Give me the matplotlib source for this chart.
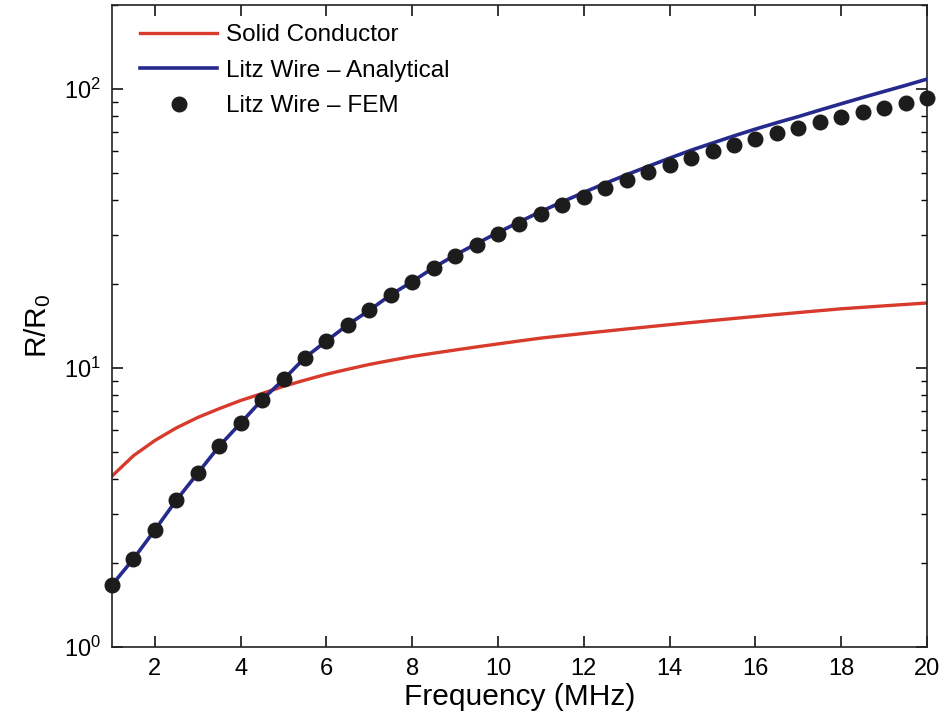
import matplotlib
matplotlib.use("Agg")
import matplotlib.pyplot as plt
from matplotlib.ticker import LogLocator, FixedLocator

plt.rcParams['font.family'] = ['Liberation Sans', 'DejaVu Sans']
plt.rcParams['mathtext.fontset'] = 'custom'
plt.rcParams['mathtext.rm'] = 'Liberation Sans'
plt.rcParams['mathtext.it'] = 'Liberation Sans'

freq = [1, 1.5, 2, 2.5, 3, 3.5, 4, 4.5, 5, 5.5, 6, 6.5, 7, 7.5, 8, 8.5, 9, 9.5,
        10, 10.5, 11, 11.5, 12, 12.5, 13, 13.5, 14, 14.5, 15, 15.5, 16, 16.5,
        17, 17.5, 18, 18.5, 19, 19.5, 20]

solid = [4.1, 4.85, 5.5, 6.1, 6.65, 7.15, 7.65, 8.1, 8.6, 9.05, 9.5, 9.9, 10.3,
         10.65, 11.0, 11.3, 11.6, 11.9, 12.2, 12.5, 12.8, 13.05, 13.3, 13.55,
         13.8, 14.05, 14.3, 14.55, 14.8, 15.05, 15.3, 15.55, 15.8, 16.05, 16.3,
         16.5, 16.7, 16.9, 17.1]

litz_analytical = [1.67, 2.07, 2.63, 3.36, 4.2, 5.25, 6.35, 7.7, 9.1, 10.9,
                   12.5, 14.3, 16.1, 18.3, 20.4, 22.9, 25.4, 27.9, 30.6, 33.4,
                   36.4, 39.4, 42.6, 45.9, 49.3, 52.8, 56.5, 60.3, 64.0, 67.9,
                   71.8, 75.7, 79.6, 84.0, 88.5, 93.2, 98.0, 103.0, 108.5]

litz_fem = [1.67, 2.07, 2.63, 3.36, 4.2, 5.25, 6.35, 7.7, 9.1, 10.9, 12.5,
            14.3, 16.1, 18.3, 20.3, 22.8, 25.2, 27.6, 30.2, 32.8, 35.6, 38.4,
            41.0, 44.2, 47.2, 50.4, 53.4, 56.6, 59.9, 63.0, 66.1, 69.5, 72.4,
            76.2, 79.4, 82.8, 85.5, 89.1, 92.8]

xticks = [2, 4, 6, 8, 10, 12, 14, 16, 18, 20]

fig = plt.figure(figsize=(9.43, 7.21), dpi=100)
ax = fig.add_axes([0.1188, 0.1026, 0.8642, 0.8905])

ax.plot(freq, solid, color='#d83a2c', lw=2.4, label='Solid Conductor', zorder=2)
ax.plot(freq, litz_analytical, color='#262a8c', lw=2.6, label='Litz Wire \u2013 Analytical', zorder=3)
ax.plot(freq, litz_fem, 'o', color='#1c1c1c', ms=10.5, label='Litz Wire \u2013 FEM',
        clip_on=False, zorder=4)

ax.set_yscale('log')
ax.set_xlim(1, 20)
ax.set_ylim(1, 200)
ax.xaxis.set_major_locator(FixedLocator(xticks))
ax.yaxis.set_major_locator(LogLocator(base=10, numticks=10))
ax.yaxis.set_minor_locator(LogLocator(base=10, subs=range(2, 10), numticks=10))

ax.tick_params(axis='both', which='major', direction='in', length=8, width=1.1,
               top=True, right=True, labelsize=17, pad=8)
ax.tick_params(axis='y', which='minor', direction='in', length=4.5, width=1.0,
               left=True, right=True)
for s in ax.spines.values():
    s.set_linewidth(1.2)
    s.set_color('#222222')

ax.set_xlabel('Frequency (MHz)', fontsize=21.5, labelpad=2)
ax.set_ylabel('R/R$_0$', fontsize=21.5, labelpad=8)

leg = ax.legend(loc='upper left', frameon=False, fontsize=17.5, handlelength=3.2,
                handletextpad=0.35, labelspacing=0.55, borderaxespad=0.4,
                bbox_to_anchor=(0.01, 1.0))

fig.savefig('out.png', dpi=100)
